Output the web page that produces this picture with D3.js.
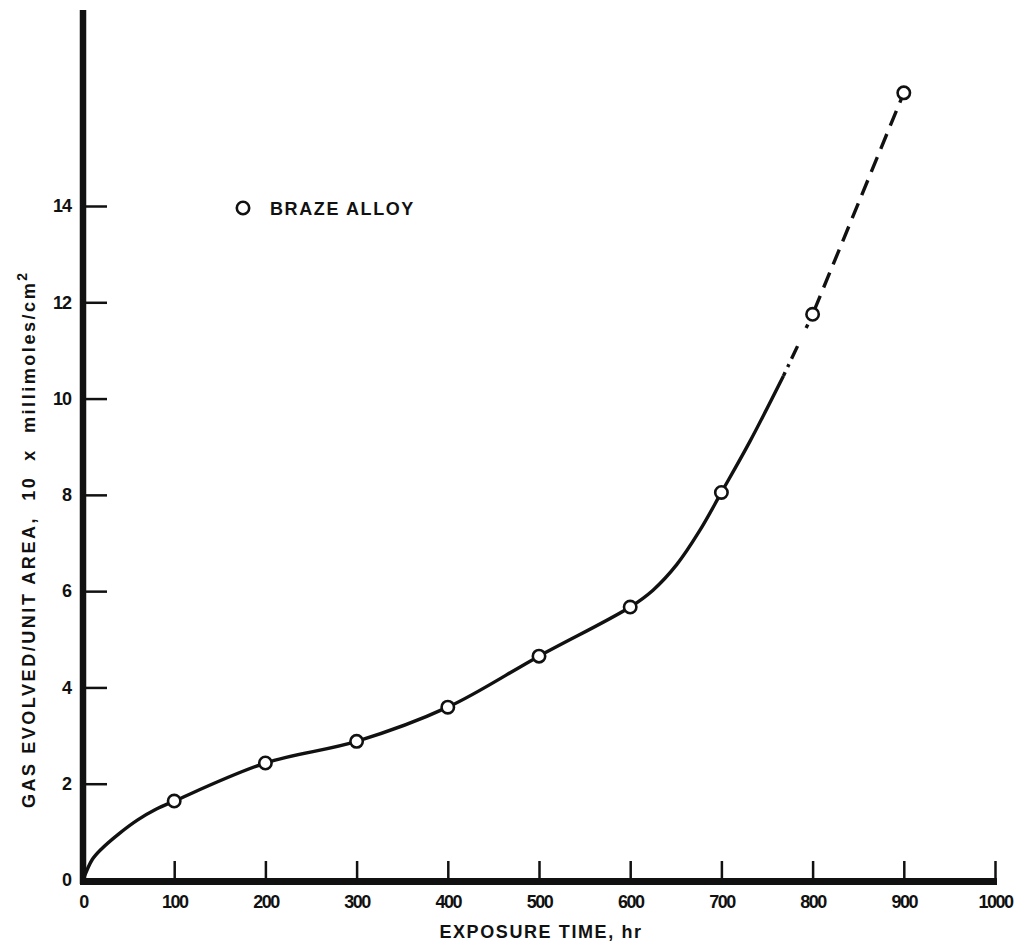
<!DOCTYPE html>
<html lang="en">

<head>
    <meta charset="UTF-8">
    <title>Gas Evolved vs Exposure Time</title>
    <script src="https://d3js.org/d3.v7.min.js"></script>
    <style>
        body {
            margin: 0;
            background: #fff;
        }

        text {
            font-family: "Liberation Sans", Arial, sans-serif;
            font-weight: bold;
            fill: #111;
        }

        .tick line {
            stroke: #111;
            stroke-width: 2.5px;
        }
    </style>
</head>

<body>
    <svg id="chart"></svg>

    <script>
        // measured points (braze alloy)
        const hours = [100, 200, 300, 400, 500, 600, 700, 800, 900];
        const gasEvolved = [1.64, 2.43, 2.88, 3.59, 4.65, 5.67, 8.05, 11.75, 16.35];

        // faired curve drawn through the points
        const solidCurveHours = [0, 10, 20, 40, 60, 80, 100, 200, 300, 400, 500, 600, 625, 651, 676, 700, 731, 768];
        const solidCurveGas = [0, 0.42, 0.64, 0.97, 1.25, 1.47, 1.64, 2.43, 2.88, 3.59, 4.65, 5.67, 6.02, 6.55, 7.25, 8.05, 9.1, 10.47];
        const dashDotHours = [768, 800];
        const dashDotGas = [10.47, 11.75];
        const dashedHours = [800, 900];
        const dashedGas = [11.75, 16.35];

        const xTicks = [0, 100, 200, 300, 400, 500, 600, 700, 800, 900, 1000];
        const yTicks = [0, 2, 4, 6, 8, 10, 12, 14];

        const width = 1018;
        const height = 943;

        const svg = d3.select('#chart')
            .attr('width', width)
            .attr('height', height);

        const x = d3.scaleLinear().domain([0, 1000]).range([83, 995]);
        const y = d3.scaleLinear().domain([0, 14]).range([880, 206]);

        // y axis (ticks inside, labels on the left)
        const yAxis = svg.append('g')
            .attr('transform', `translate(${x(0)},0)`)
            .call(d3.axisLeft(y).tickValues(yTicks).tickSize(-24).tickPadding(12).tickFormat(d3.format('d')));
        yAxis.select('.domain').remove();
        yAxis.selectAll('text').style('font-size', '18px').style('letter-spacing', '-1px');

        // x axis (ticks inside, labels below)
        const xAxis = svg.append('g')
            .attr('transform', `translate(0,${y(0)})`)
            .call(d3.axisBottom(x).tickValues(xTicks).tickSize(-19).tickPadding(15).tickFormat(d3.format('d')));
        xAxis.select('.domain').remove();
        xAxis.selectAll('text').style('font-size', '18px').style('letter-spacing', '-1.5px');
        xAxis.selectAll('.tick').filter(d => d === 0).select('line').remove();

        // heavy axis lines
        svg.append('line')
            .attr('x1', x(0)).attr('x2', x(0))
            .attr('y1', 10).attr('y2', y(0) + 4)
            .attr('stroke', '#111').attr('stroke-width', 6.5);
        svg.append('line')
            .attr('x1', x(0) - 3).attr('x2', x(1000) + 2)
            .attr('y1', y(0) + 1.5).attr('y2', y(0) + 1.5)
            .attr('stroke', '#111').attr('stroke-width', 7);

        // curve segments
        const line = d3.line()
            .x(d => x(d[0]))
            .y(d => y(d[1]))
            .curve(d3.curveCatmullRom.alpha(0.5));

        svg.append('path')
            .datum(d3.zip(solidCurveHours, solidCurveGas))
            .attr('d', line)
            .attr('fill', 'none')
            .attr('stroke', '#111')
            .attr('stroke-width', 3.4);

        svg.append('path')
            .datum(d3.zip(dashDotHours, dashDotGas))
            .attr('d', line)
            .attr('fill', 'none')
            .attr('stroke', '#111')
            .attr('stroke-width', 3.4)
            .attr('stroke-dasharray', '4,6,3,6,14,20');

        svg.append('path')
            .datum(d3.zip(dashedHours, dashedGas))
            .attr('d', line)
            .attr('fill', 'none')
            .attr('stroke', '#111')
            .attr('stroke-width', 3.4)
            .attr('stroke-dasharray', '16,9')
            .attr('stroke-dashoffset', -4);

        // data markers
        svg.selectAll('.pt')
            .data(d3.zip(hours, gasEvolved))
            .enter().append('circle')
            .attr('class', 'pt')
            .attr('cx', d => x(d[0]))
            .attr('cy', d => y(d[1]))
            .attr('r', 6.2)
            .attr('fill', '#fff')
            .attr('stroke', '#111')
            .attr('stroke-width', 2.6);

        // legend
        svg.append('circle')
            .attr('cx', 243).attr('cy', 208).attr('r', 6.2)
            .attr('fill', '#fff').attr('stroke', '#111').attr('stroke-width', 2.6);
        svg.append('text')
            .attr('x', 270).attr('y', 215)
            .style('font-size', '18px')
            .style('letter-spacing', '1.6px')
            .text('BRAZE ALLOY');

        // axis titles
        svg.append('text')
            .attr('x', 541).attr('y', 938)
            .attr('text-anchor', 'middle')
            .style('font-size', '18px')
            .style('letter-spacing', '1.6px')
            .text('EXPOSURE TIME, hr');

        const yTitle = svg.append('text')
            .attr('transform', 'translate(35,808) rotate(-90)')
            .attr('x', 0).attr('y', 0)
            .attr('textLength', 535)
            .attr('lengthAdjust', 'spacing')
            .style('font-size', '18px')
            .style('white-space', 'pre');
        yTitle.append('tspan').text('GAS EVOLVED/UNIT AREA,  10  x  millimoles/cm');
        yTitle.append('tspan').attr('dy', -8).style('font-size', '14px').text('2');
    </script>
</body>

</html>
